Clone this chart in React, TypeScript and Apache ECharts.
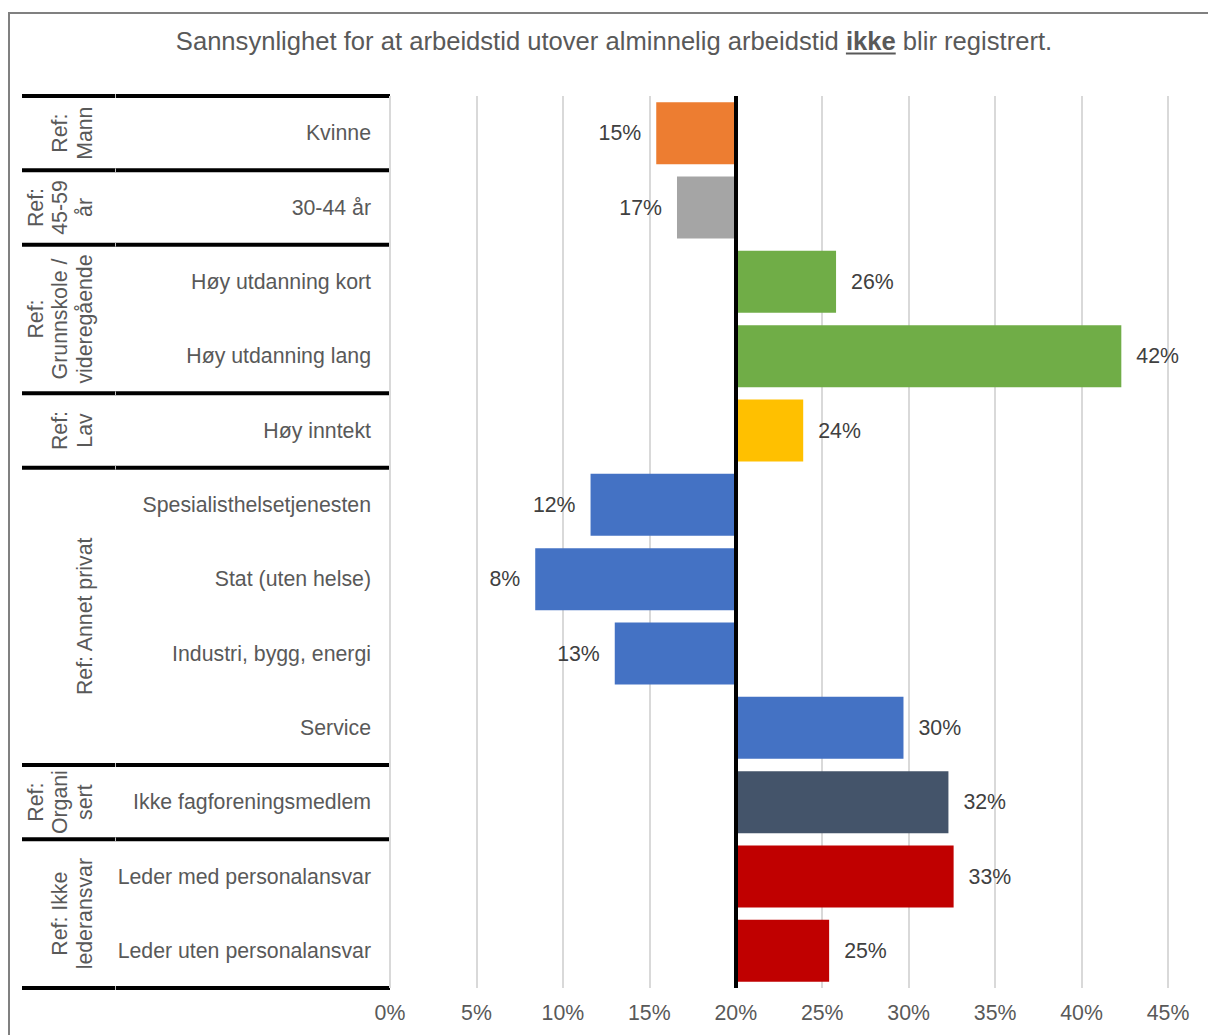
import React, { useEffect, useRef } from 'react';
import * as echarts from 'echarts';

const categories = [
  'Kvinne',
  '30-44 år',
  'Høy utdanning kort',
  'Høy utdanning lang',
  'Høy inntekt',
  'Spesialisthelsetjenesten',
  'Stat (uten helse)',
  'Industri, bygg, energi',
  'Service',
  'Ikke fagforeningsmedlem',
  'Leder med personalansvar',
  'Leder uten personalansvar',
];
const values = [15.4, 16.6, 25.8, 42.3, 23.9, 11.6, 8.4, 13.0, 29.7, 32.3, 32.6, 25.4];
const barColors = [
  '#ED7D31', '#A5A5A5', '#70AD47', '#70AD47', '#FFC000',
  '#4472C4', '#4472C4', '#4472C4', '#4472C4', '#44546A', '#C00000', '#C00000',
];
const groupLabels = ['Ref:\nMann', 'Ref:\n45-59\når', 'Ref:\nGrunnskole /\nvideregående', 'Ref:\nLav', 'Ref: Annet privat', 'Ref:\nOrgani\nsert', 'Ref: Ikke\nlederansvar'];
const groupSizes = [1, 1, 2, 1, 4, 1, 2];
const baseline = 20;
const titleParts = ['Sannsynlighet for at arbeidstid utover alminnelig arbeidstid ', 'ikke', ' blir registrert.'];

const FONT = '"Liberation Sans", Arial, sans-serif';
const W = 1208;
const H = 1035;
const GRID_LEFT = 390;
const GRID_RIGHT = 40;
const GRID_TOP = 96;
const GRID_BOTTOM = 47;
const FS = 21.3;

function measure(text: string, weight: string, size: number) {
  const c = document.createElement('canvas');
  const ctx = c.getContext('2d')!;
  ctx.font = `${weight} ${size}px "Liberation Sans", Arial, sans-serif`;
  return ctx.measureText(text).width;
}

export default function App() {
  const ref = useRef<HTMLDivElement>(null);
  useEffect(() => {
    if (!ref.current) return;
    const chart = echarts.init(ref.current, undefined, { renderer: 'svg' });

    const baseData = values.map((v) => Math.min(v, baseline));
    const deltaData = values.map((v, i) => ({
      value: Math.abs(v - baseline),
      itemStyle: { color: barColors[i] },
      label: {
        show: true,
        position: v >= baseline ? 'right' : 'left',
        distance: 15,
        formatter: () => `${Math.round(v)}%`,
      },
    }));

    const plotH = H - GRID_TOP - GRID_BOTTOM;
    const band = plotH / categories.length;

    const graphics: any[] = [];
    graphics.push({
      type: 'rect',
      shape: { x: 9, y: 13, width: 1400, height: 1200 },
      style: { fill: 'none', stroke: '#808080', lineWidth: 2 },
      silent: true,
    });
    const fs = 25.6;
    const w1 = measure(titleParts[0], 'normal', fs);
    const w2 = measure(titleParts[1], 'bold', fs);
    const w3 = measure(titleParts[2], 'normal', fs);
    const startX = 614 - (w1 + w2 + w3) / 2;
    const ty = 41;
    [[titleParts[0], 'normal', startX], [titleParts[1], 'bold', startX + w1], [titleParts[2], 'normal', startX + w1 + w2]].forEach(([t, fw, x]) => {
      graphics.push({
        type: 'text',
        x: x as number,
        y: ty,
        style: { text: t as string, fontSize: fs, fontWeight: fw as string, fontFamily: FONT, fill: '#595959', align: 'left', verticalAlign: 'middle' },
        silent: true,
      });
    });
    graphics.push({
      type: 'line',
      shape: { x1: startX + w1, y1: 53.5, x2: startX + w1 + w2, y2: 53.5 },
      style: { stroke: '#595959', lineWidth: 2 },
      silent: true,
    });

    let idx = 0;
    const boundaries = [0];
    groupSizes.forEach((s) => {
      idx += s;
      boundaries.push(idx);
    });
    boundaries.forEach((b) => {
      const y = GRID_TOP + b * band;
      graphics.push({
        type: 'line',
        shape: { x1: 22, y1: y, x2: GRID_LEFT, y2: y },
        style: { stroke: '#000000', lineWidth: 4 },
        silent: true,
      });
      graphics.push({
        type: 'line',
        shape: { x1: 115.5, y1: y - 2, x2: 115.5, y2: y + 2 },
        style: { stroke: '#BFBFBF', lineWidth: 1 },
        silent: true,
      });
    });
    groupLabels.forEach((g, i) => {
      const yc = GRID_TOP + ((boundaries[i] + boundaries[i + 1]) / 2) * band;
      graphics.push({
        type: 'text',
        x: 97,
        y: yc,
        rotation: Math.PI / 2,
        style: {
          text: g,
          fontSize: FS,
          fontFamily: FONT,
          fill: '#595959',
          align: 'center',
          verticalAlign: 'bottom',
          lineHeight: 24.5,
        },
        silent: true,
      });
    });

    chart.setOption({
      animation: false,
      backgroundColor: '#ffffff',
      grid: { left: GRID_LEFT, right: GRID_RIGHT, top: GRID_TOP, bottom: GRID_BOTTOM, containLabel: false },
      xAxis: {
        type: 'value',
        min: 0,
        max: 45,
        interval: 5,
        axisLine: { show: false },
        axisTick: { show: false },
        axisLabel: { formatter: '{value}%', fontSize: FS, fontFamily: FONT, color: '#595959', margin: 14 },
        splitLine: { show: true, lineStyle: { color: '#D9D9D9', width: 2 } },
      },
      yAxis: {
        type: 'category',
        data: categories,
        inverse: true,
        axisLine: { show: false },
        axisTick: { show: false },
        axisLabel: { fontSize: FS, fontFamily: FONT, color: '#595959', margin: 19 },
      },
      series: [
        {
          type: 'bar',
          stack: 'a',
          data: baseData,
          barWidth: 62,
          itemStyle: { color: 'transparent' },
          silent: true,
        },
        {
          type: 'bar',
          stack: 'a',
          data: deltaData,
          barWidth: 62,
          label: { fontSize: FS, fontFamily: FONT, color: '#404040' },
          markLine: {
            silent: true,
            symbol: ['none', 'none'],
            label: { show: false },
            lineStyle: { color: '#000000', width: 4, type: 'solid' },
            data: [{ xAxis: baseline }],
          },
        },
      ],
      graphic: graphics,
    });

    return () => chart.dispose();
  }, []);

  return <div ref={ref} style={{ position: 'fixed', left: 0, top: 0, width: W, height: H }} />;
}
